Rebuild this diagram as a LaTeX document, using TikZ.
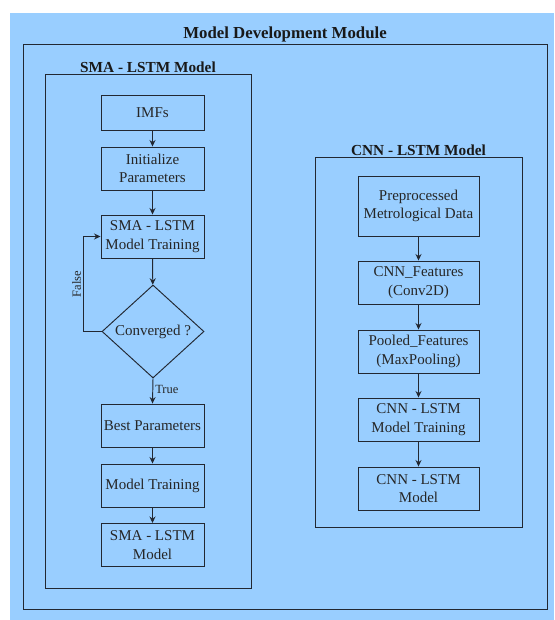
\documentclass[tikz,border=0pt]{standalone}
\usepackage{fontspec}
\setmainfont{Liberation Serif}
\usetikzlibrary{shapes.geometric,arrows.meta,positioning}
\definecolor{panelblue}{RGB}{153,206,255}
\definecolor{edgegrey}{RGB}{34,40,50}

\begin{document}
\begin{tikzpicture}[
    x=1pt, y=-1pt,
    block/.style={draw=edgegrey, line width=0.95pt, minimum width=103pt, minimum height=43pt, inner sep=1pt, align=center, text=black!85, font=\fontsize{15}{18.5}\selectfont},
    cblock/.style={block, minimum width=121pt},
    decision/.style={diamond, draw=edgegrey, line width=0.95pt, minimum width=102pt, minimum height=93pt, aspect=1.1, inner sep=0pt, text=black!85, font=\fontsize{15}{18.5}\selectfont},
    frame/.style={draw=edgegrey, line width=0.95pt, inner sep=0pt},
    heading/.style={inner sep=1pt, text=black!90, font=\bfseries\fontsize{15.3}{18}\selectfont},
    edgelabel/.style={inner sep=2pt, text=black!85, font=\fontsize{12.5}{15}\selectfont},
    arrow/.style={-{Stealth[length=6.5pt,width=6pt]}, line width=0.95pt, draw=edgegrey}
]
    \useasboundingbox (0,0) rectangle (554,620);
    \fill[panelblue] (9.5,13.5) rectangle (554,620);

    % Frames
    \node[frame, minimum width=524pt, minimum height=565pt] (module) at (285,326.5) {};
    \node[heading, font=\bfseries\fontsize{16.8}{20}\selectfont, above=0pt of module.north] {Model Development Module};

    \node[frame, minimum width=206pt, minimum height=514pt] (smabox) at (148,331) {};
    \node[heading, above=0pt of smabox.north] {SMA - LSTM Model};

    \node[frame, minimum width=207pt, minimum height=370pt] (cnnbox) at (418.5,342) {};
    \node[heading, above=0pt of cnnbox.north] {CNN - LSTM Model};

    % SMA - LSTM steps
    \node[block, minimum height=35pt] (imfs) at (152.5,112.5) {IMFs};
    \node[block] (init) at (152.5,168.5) {Initialize\\Parameters};
    \node[block] (smatrain) at (152.5,236.5) {SMA - LSTM\\Model Training};
    \node[decision] (conv) at (153,331.5) {Converged ?};
    \node[block] (best) at (152.5,425.5) {Best Parameters};
    \node[block] (train) at (152.5,485.5) {Model Training};
    \node[block] (smamodel) at (152.5,545) {SMA - LSTM\\Model};

    % CNN - LSTM steps
    \node[cblock, minimum height=60pt] (data) at (418.5,206) {Preprocessed\\Metrological Data};
    \node[cblock] (feat) at (418.5,282.5) {CNN\_Features\\(Conv2D)};
    \node[cblock] (pool) at (418.5,351.5) {Pooled\_Features\\(MaxPooling)};
    \node[cblock] (cnntrain) at (418.5,419.5) {CNN - LSTM\\Model Training};
    \node[cblock] (cnnmodel) at (418.5,488.5) {CNN - LSTM\\Model};

    % Arrows
    \draw[arrow] (imfs) -- (init);
    \draw[arrow] (init) -- (smatrain);
    \draw[arrow] (smatrain) -- (conv);
    \draw[arrow] (conv.south) -- node[edgelabel, right, pos=0.45] {True} (best.north);
    \draw[arrow] (conv.west) -- ++(-18,0) |- node[edgelabel, pos=0.25, rotate=90, anchor=south] {False} (smatrain.west);
    \draw[arrow] (best) -- (train);
    \draw[arrow] (train) -- (smamodel);

    \draw[arrow] (data) -- (feat);
    \draw[arrow] (feat) -- (pool);
    \draw[arrow] (pool) -- (cnntrain);
    \draw[arrow] (cnntrain) -- (cnnmodel);
\end{tikzpicture}
\end{document}
